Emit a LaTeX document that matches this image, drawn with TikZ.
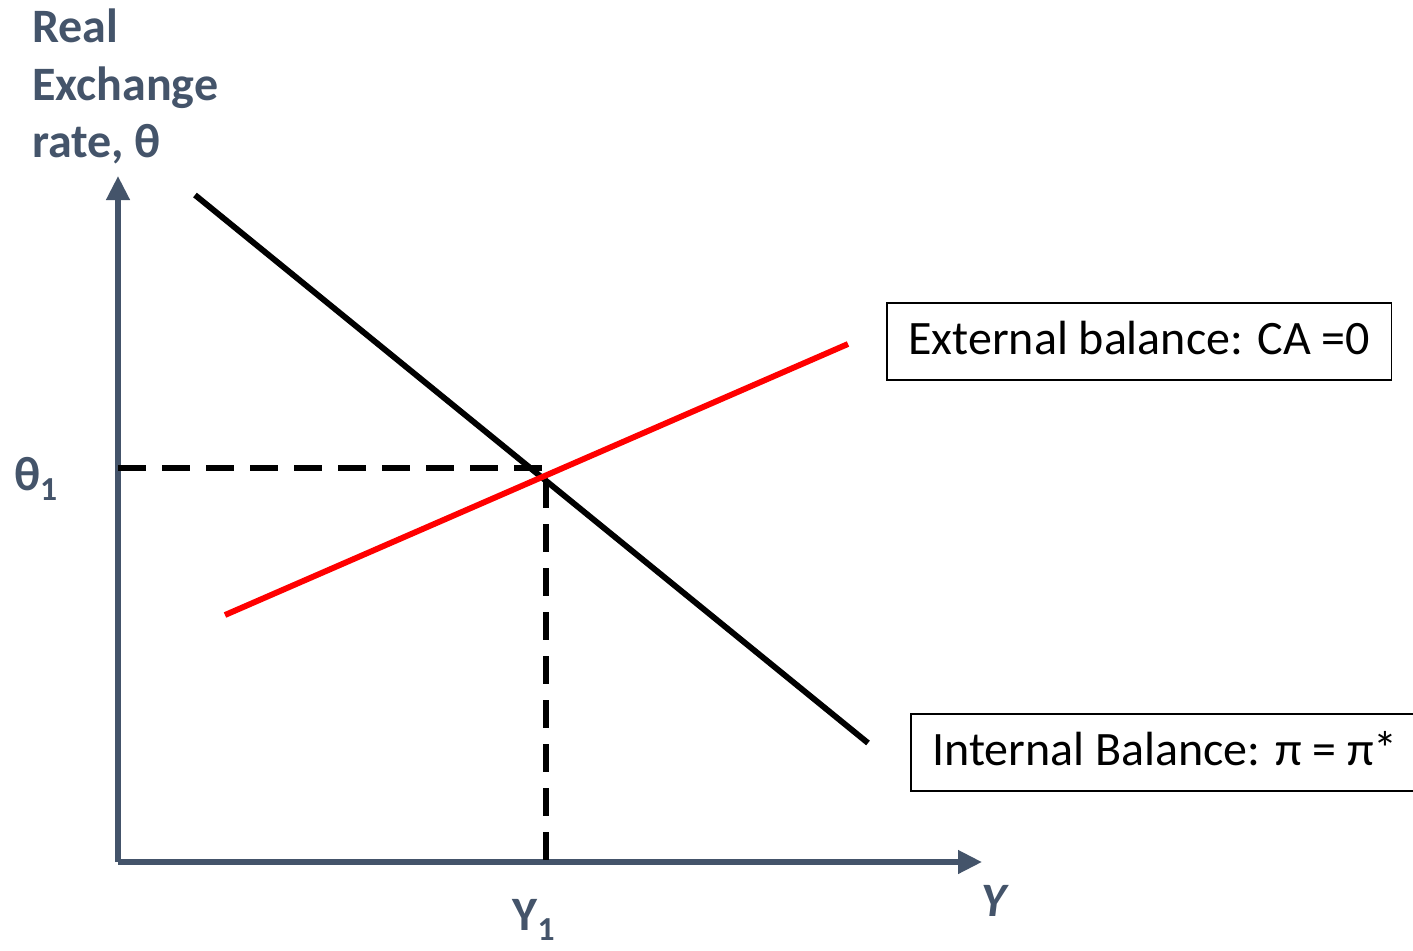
\documentclass[tikz,border=0pt]{standalone}
\usepackage{fontspec}
\setmainfont{Carlito}
\usepackage{tikz}
\usetikzlibrary{arrows.meta}

\definecolor{axisblue}{HTML}{44546A}
\definecolor{ebred}{HTML}{FF0000}

\tikzset{
    axis/.style={line width=4pt, draw=axisblue, -{Triangle[length=18pt,width=17pt]}},
    curve/.style={line width=4.4pt},
    guide/.style={line width=4.4pt, dash pattern=on 21pt off 12pt},
    axlabel/.style={text=axisblue, font=\fontsize{36}{43}\selectfont\bfseries, inner sep=0pt},
    curvelabel/.style={draw, line width=1.3pt, font=\fontsize{36}{44}\selectfont,
        inner xsep=16pt, inner ysep=0pt, minimum height=58pt, text height=27pt, text depth=8pt}
}

\begin{document}
\begin{tikzpicture}[x=0.75pt,y=-0.75pt]
\useasboundingbox (0,0) rectangle (1413,950);

% --------------------------------------------------
% Axes
% --------------------------------------------------
\coordinate (origin) at (118,862);
\coordinate (ytip) at (118,176);
\coordinate (xtip) at (982,862);
\draw[axis] (origin) -- (ytip);
\draw[axis] (origin) -- (xtip);

\node[axlabel, anchor=north west, align=left] (ylabel) at (32,9)
    {Real\\Exchange\\rate, θ};
\node[axlabel, font=\fontsize{36}{43}\selectfont\bfseries\itshape] (xlabel) at (994,901) {Y};

% --------------------------------------------------
% Balance schedules
% --------------------------------------------------
\coordinate (ib start) at (195,195);
\coordinate (ib end) at (868,743);
\coordinate (eb start) at (225,615);
\coordinate (eb end) at (848,344);
\draw[curve] (ib start) -- (ib end);
\draw[curve, draw=ebred] (eb start) -- (eb end);

\node[curvelabel, anchor=north west] (ext) at (886,302)
    {External balance: CA =0};
\node[curvelabel, anchor=north west] (int) at (910,713)
    {Internal Balance: π = π*};

% --------------------------------------------------
% Equilibrium
% --------------------------------------------------
\coordinate (eq) at (546,468);
\coordinate (theta1 tick) at (118,468);
\coordinate (y1 tick) at (546,862);
\draw[guide] (theta1 tick) -- (eq) -- (y1 tick);

\node[axlabel] (theta1) at (36,479) {θ\textsubscript{1}};
\node[axlabel] (y1) at (534,920) {Y\textsubscript{1}};

\end{tikzpicture}
\end{document}
